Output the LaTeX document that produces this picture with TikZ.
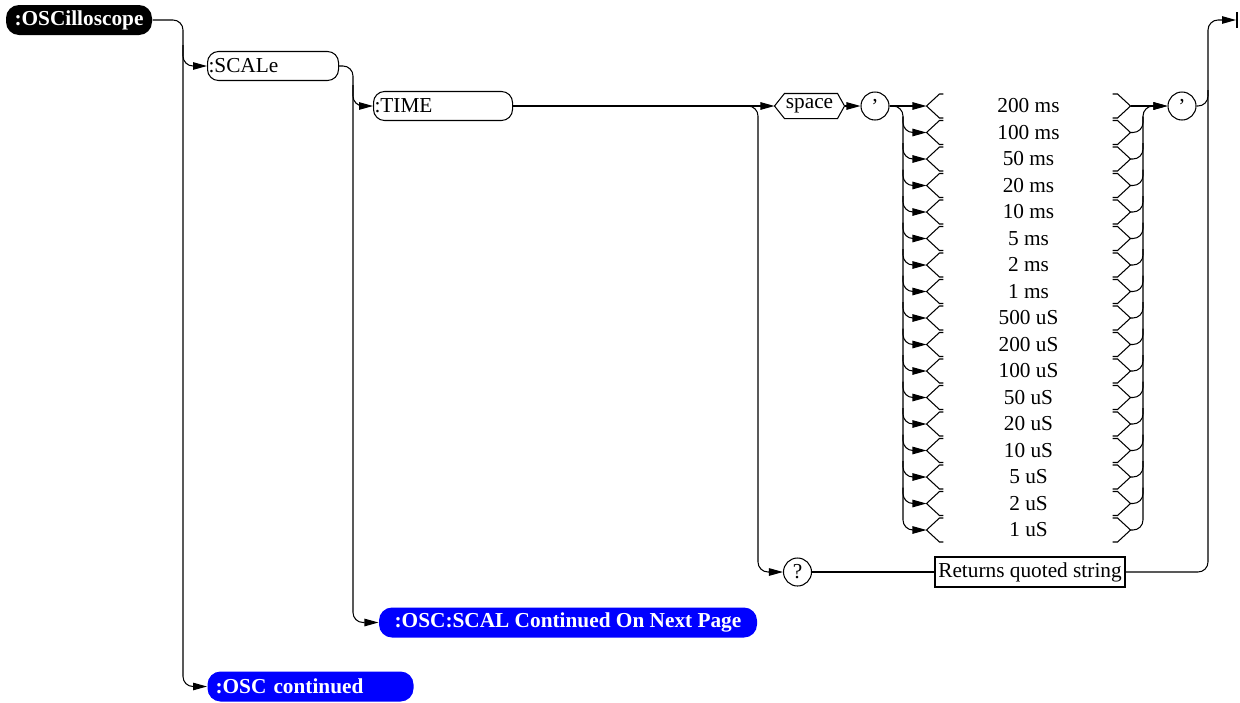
\documentclass[tikz,border=0pt]{standalone}
\usepackage{fontspec}
\setmainfont{Liberation Serif}
\usetikzlibrary{arrows.meta,calc}
\newcommand\dfont{\fontsize{21.3}{24}\selectfont}
\begin{document}
\begin{tikzpicture}[x=1pt,y=-1pt, line width=1.05pt,
  arr/.style={-{Triangle[length=14pt,width=7.5pt]}},
  bus/.style={rounded corners=10pt},
  cmd/.style={draw, rounded corners=11pt, minimum height=29pt, inner xsep=1pt, inner ysep=0pt, font=\dfont, anchor=west, align=left},
  blackbox/.style={fill=black, text=white, font=\dfont\bfseries, rounded corners=13pt, minimum width=146pt, minimum height=30pt, inner sep=0pt},
  bluebox/.style={fill=blue, text=white, font=\dfont\bfseries, rounded corners=13pt, minimum height=30pt, inner ysep=0pt},
  val/.style={minimum width=203pt, minimum height=24pt, inner sep=0pt, font=\dfont},
  qcirc/.style={circle, draw, minimum size=28pt, inner sep=0pt, font=\dfont},
  txt/.style={font=\dfont, inner sep=0pt}
]
\useasboundingbox (0,0) rectangle (1240,702);

% nodes
\node[blackbox] (osc) at (79,20) {:OSCilloscope};
\node[cmd, text width=129pt] (scale) at (207,66) {:SCALe};
\node[cmd, text width=137pt] (time) at (373,106) {:TIME};
\node[bluebox, minimum width=378pt] (cont2) at (568,622.5) {:OSC:SCAL Continued On Next Page};
\node[bluebox, anchor=west, text width=190pt, inner xsep=8pt, align=left] (cont1) at (207,686.5) {:OSC continued};
\node[txt, minimum width=69pt, minimum height=24pt] (sp) at (809.5,106) {space};
\node[qcirc] (q1) at (875,106) {’};
\node[qcirc] (q2) at (1182,106) {’};
\node[qcirc] (qm) at (797.5,572) {?};
\node[draw, txt, minimum width=190pt, minimum height=30pt] (ret) at (1030,572) {Returns quoted string};
\coordinate (endp) at (1236,20);

\foreach \t [count=\i] in {200 ms,100 ms,50 ms,20 ms,10 ms,5 ms,2 ms,1 ms,500 uS,200 uS,100 uS,50 uS,20 uS,10 uS,5 uS,2 uS,1 uS}{
  \node[val] (v\i) at (1028.5,{106+(\i-1)*26.5}) {\t};
  \draw ($(v\i.west)+(17,-12)$) -- ($(v\i.west)+(13,-12)$) -- (v\i.west) -- ($(v\i.west)+(13,12)$) -- ($(v\i.west)+(17,12)$);
  \draw ($(v\i.east)+(-18,-12)$) -- ($(v\i.east)+(-13,-12)$) -- (v\i.east) -- ($(v\i.east)+(-13,12)$) -- ($(v\i.east)+(-18,12)$);
}

% hexagon around "space"
\draw (sp.west) -- ($(sp.north west)+(10,0)$) -- ($(sp.north east)+(-7,0)$) -- (sp.east) -- ($(sp.south east)+(-7,0)$) -- ($(sp.south west)+(10,0)$) -- cycle;

% connectors
\draw[arr, bus] (osc.east) -| (183,686.5) -- (cont1.west);
\coordinate (b1) at (183,45);
\draw[arr, bus] (b1) |- (scale.west);
\draw[arr, bus] (scale.east) -| (353,622.5) -- (cont2.west);
\coordinate (b2) at (353,85);
\draw[arr, bus] (b2) |- (time.west);
\draw[arr] (time.east) -- (sp.west);
\draw[arr, bus] (time.east) -| (758,572) -- (qm.west);
\draw[arr] (sp.east) -- (q1.west);
\draw[arr] (q1.east) -- (v1.west);
\draw[arr, bus] (q1.east) -| (903,530) -- (v17.west);
\draw[arr] (v1.east) -- (q2.west);
\draw[arr, bus] (v17.east) -| (1143,106) -- (q2.west);
\foreach \i in {2,...,16}{
  \coordinate (lb\i) at (903,{106+(\i-1)*26.5-16});
  \draw[arr, bus] (lb\i) |- (v\i.west);
  \coordinate (rb\i) at (1143,{106+(\i-1)*26.5-16});
  \draw[bus] (v\i.east) -| (rb\i);
}
\draw (qm.east) -- (ret.west);
\draw[arr, bus] (ret.east) -| (1208,20) -- (endp);
\coordinate (tb) at (1208,90);
\draw[bus] (q2.east) -| (tb);
\draw[line width=1.3pt] ($(endp)+(1,-8)$) -- ($(endp)+(1,8)$);
\end{tikzpicture}
\end{document}
